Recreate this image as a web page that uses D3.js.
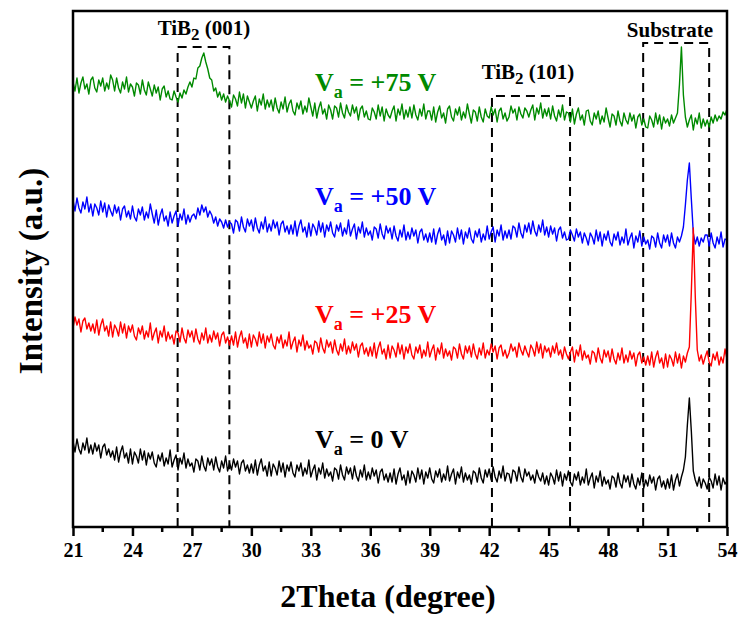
<!DOCTYPE html>
<html>
<head>
<meta charset="utf-8">
<script src="https://cdn.jsdelivr.net/npm/d3@7"></script>
<style>
  body { margin: 0; background: #fff; }
  text { font-family: "Liberation Serif", "Times New Roman", serif; font-weight: bold; }
</style>
</head>
<body>
<svg id="chart" width="743" height="617"></svg>
<script>
// scan settings: 2theta from 21 to 54 in steps of 0.1 degree
const thetaStart = 21;
const thetaStep = 0.1;
const xTicks = [21, 24, 27, 30, 33, 36, 39, 42, 45, 48, 51, 54];

const voltages = ["0", "+25", "+50", "+75"];
const colors = ["#000000", "#ff0000", "#0000ff", "#008a00"];
// vertical stacking offset of each pattern (a.u.)
const offsets = [0, 150, 250, 370];

// intensities (a.u.), one row per degree
const i0V = [
  86,75,88,78,73,84,77,89,74,82,
  73,84,76,82,69,80,83,72,78,70,
  76,67,80,65,75,81,69,74,64,78,
  63,75,71,64,78,67,76,62,74,68,
  75,64,60,72,66,74,61,69,63,77,
  60,67,72,57,69,63,74,59,68,61,
  64,55,68,66,57,71,61,56,69,62,
  68,57,70,60,55,66,59,71,56,64,
  57,68,60,66,53,64,67,56,62,54,
  63,54,67,52,62,68,56,61,51,65,
  51,63,59,52,66,55,64,50,62,56,
  65,54,50,62,56,64,51,59,53,67,
  50,57,62,47,59,53,64,49,58,51,
  55,46,59,57,48,62,52,47,60,53,
  59,48,61,51,46,57,50,62,47,55,
  48,59,51,57,44,55,58,47,53,45,
  54,45,58,43,53,59,47,52,42,56,
  44,56,52,45,59,48,57,43,55,49,
  59,48,44,56,50,58,45,53,47,61,
  46,53,58,43,55,49,60,45,54,47,
  52,43,56,54,45,59,49,44,57,50,
  58,47,60,50,45,56,49,61,46,54,
  53,44,57,55,46,60,50,45,58,51,
  55,47,52,44,57,50,46,54,43,51,
  42,54,50,43,57,46,55,41,53,47,
  56,45,41,53,47,55,42,50,44,58,
  42,49,54,39,51,45,56,41,50,43,
  47,38,51,49,40,54,44,39,52,45,
  51,40,53,43,38,49,42,54,39,47,
  41,52,44,50,37,48,51,40,46,38,
  48,39,52,37,47,53,41,50,57,70,
  102,129,96,56,47,41,50,39,48,44,
  38,50,46,39,53,42,51,37,49,43,
  46
];

const i25V = [
  49,60,52,58,45,56,59,48,54,46,
  53,44,57,42,52,58,46,51,41,55,
  40,52,48,41,55,44,53,39,51,45,
  52,41,37,49,43,51,38,46,40,54,
  37,44,49,34,46,40,51,36,45,38,
  42,33,46,44,35,49,39,34,47,40,
  46,35,48,38,33,44,37,49,34,42,
  35,46,38,44,31,42,45,34,40,32,
  41,32,45,30,40,46,34,39,29,43,
  30,42,38,31,45,34,43,29,41,35,
  43,32,28,40,34,42,29,37,31,45,
  28,35,40,25,37,31,42,27,36,29,
  32,23,36,34,25,39,29,24,37,30,
  35,24,37,27,22,33,26,38,23,31,
  24,35,27,33,20,31,34,23,29,21,
  30,21,34,19,29,35,23,28,18,32,
  19,31,27,20,34,23,32,18,30,24,
  33,22,18,30,24,32,19,27,21,35,
  20,27,32,17,29,23,34,19,28,21,
  26,17,30,28,19,33,23,18,31,24,
  31,20,33,23,18,29,22,34,19,27,
  22,33,25,31,18,29,32,21,27,19,
  24,33,26,30,20,34,27,22,31,25,
  20,32,28,21,35,24,33,19,31,25,
  29,20,31,24,34,22,27,18,30,23,
  18,25,30,15,27,21,32,17,26,19,
  22,13,26,24,15,29,19,14,27,20,
  26,15,28,18,13,24,17,29,14,22,
  15,26,18,24,11,22,25,14,20,12,
  21,12,25,10,20,26,14,19,9,23,
  10,22,18,11,25,14,23,9,21,15,
  24,30,85,149,80,27,16,22,13,20,
  26,15,11,23,17,25,12,20,14,28,
  18
];

const i50V = [
  77,66,79,69,64,75,68,80,65,73,
  61,73,69,62,76,65,74,60,72,66,
  61,72,64,70,57,68,71,60,66,58,
  71,60,56,68,62,70,57,65,59,73,
  63,54,67,52,62,68,56,61,51,65,
  54,61,66,51,63,57,68,53,62,55,
  61,63,58,69,62,72,65,70,60,66,
  62,54,60,51,58,55,49,57,50,55,
  53,44,57,55,46,60,50,45,58,51,
  57,46,59,49,44,55,48,60,45,53,
  46,57,49,55,42,53,56,45,51,43,
  52,43,56,41,51,57,45,50,40,54,
  41,53,49,42,56,45,54,40,52,46,
  55,44,40,52,46,54,41,49,43,57,
  41,48,53,38,50,44,55,40,49,42,
  46,37,50,48,39,53,43,38,51,44,
  49,38,51,41,36,47,40,52,37,45,
  38,49,41,47,34,45,48,37,43,35,
  44,35,48,33,43,49,37,42,32,46,
  34,46,42,35,49,38,47,33,45,39,
  49,38,34,46,40,48,35,43,37,51,
  38,45,50,35,47,41,52,37,46,39,
  47,38,51,49,40,54,44,39,52,45,
  54,43,56,46,41,52,45,57,42,50,
  40,51,43,49,36,47,50,39,45,37,
  38,47,42,36,48,40,45,34,44,39,
  32,44,40,33,47,36,45,31,43,37,
  46,35,31,43,37,45,32,40,34,48,
  32,39,44,29,41,35,46,31,40,33,
  37,28,41,39,30,44,34,29,42,35,
  42,31,44,34,29,40,35,41,50,72,
  97,114,78,44,33,40,31,39,35,42,
  42,31,44,34,29,40,33,45,30,38,
  37
];

const i75V = [
  75,66,79,64,74,80,68,73,63,77,
  80,69,65,77,71,79,66,74,68,82,
  77,66,79,69,64,75,68,80,65,73,
  70,61,74,72,63,77,67,62,75,68,
  61,72,64,70,57,68,71,60,66,58,
  57,66,60,55,64,59,67,63,70,75,
  70,79,78,89,91,99,104,95,88,79,
  77,66,69,60,65,57,63,55,61,56,
  50,62,58,51,65,54,63,49,61,55,
  49,56,61,46,58,52,63,48,57,50,
  57,46,59,49,44,55,48,60,45,53,
  57,46,42,54,48,56,43,51,45,59,
  50,41,54,39,49,55,43,48,38,52,
  47,38,51,49,40,54,44,39,52,45,
  41,52,44,50,37,48,51,40,46,38,
  37,49,45,38,52,41,50,36,48,42,
  39,46,51,36,48,42,53,38,47,40,
  50,39,52,42,37,48,41,53,38,46,
  46,37,50,35,45,51,39,44,34,48,
  51,40,36,48,42,50,37,45,39,53,
  43,34,47,45,36,50,40,35,48,41,
  39,50,42,48,35,46,49,38,44,36,
  40,51,44,48,37,50,43,39,49,46,
  40,47,52,37,49,43,54,39,48,41,
  49,38,51,41,36,47,40,52,37,45,
  44,35,48,33,43,49,37,42,32,46,
  47,36,32,44,38,46,33,41,35,49,
  39,30,43,41,32,46,36,31,44,37,
  33,44,36,42,29,40,43,32,38,30,
  29,41,37,30,44,33,42,28,40,34,
  38,31,42,34,39,44,72,110,62,40,
  30,37,42,27,39,33,44,29,38,31,
  37,30,40,34,42,36,41,38,45,42,
  48
];

const patterns = [i0V, i25V, i50V, i75V];

// reflections marked with dashed boxes: 2theta range and top (a.u.)
const peakNames = ["TiB", "TiB", "Substrate"];
const peakIndex = ["2", "2", ""];
const peakHkl = [" (001)", " (101)", ""];
const peakFrom = [26.28, 42.14, 49.77];
const peakTo = [28.89, 46.08, 53.10];
const peakTop = [480, 431, 484];

const svg = d3.select("#chart");
const margin = { left: 73, right: 16, top: 11, bottom: 90 };
const width = 743 - margin.left - margin.right;
const height = 617 - margin.top - margin.bottom;

const x = d3.scaleLinear().domain([21, 54]).range([margin.left, margin.left + width]);
const y = d3.scaleLinear().domain([0, 516]).range([margin.top + height, margin.top]);

svg.append("rect").attr("width", 743).attr("height", 617).attr("fill", "#fff");

// dashed boxes
peakFrom.forEach(function(f, i) {
  const x0 = x(f), x1 = x(peakTo[i]), yt = y(peakTop[i]), yb = y(0);
  svg.append("path")
    .attr("d", `M${x0},${yb}V${yt}H${x1}V${yb}`)
    .attr("fill", "none")
    .attr("stroke", "#000")
    .attr("stroke-width", 2)
    .attr("stroke-dasharray", "9,6");
});

const line = d3.line()
  .x(function(d) { return x(d[0]); })
  .y(function(d) { return y(d[1]); });

for (let k = patterns.length - 1; k >= 0; k--) {
  const pts = patterns[k].map(function(v, i) {
    return [thetaStart + i * thetaStep, v + offsets[k]];
  });
  svg.append("path")
    .datum(pts)
    .attr("d", line)
    .attr("fill", "none")
    .attr("stroke", colors[k])
    .attr("stroke-width", 1.4)
    .attr("stroke-linejoin", "round");
}

// frame
svg.append("rect")
  .attr("x", margin.left).attr("y", margin.top)
  .attr("width", width).attr("height", height)
  .attr("fill", "none").attr("stroke", "#000").attr("stroke-width", 2.5);

// bottom axis with minor ticks
const minor = d3.range(22.5, 54, 3);
svg.append("g").selectAll("line").data(minor).enter().append("line")
  .attr("x1", function(d) { return x(d); }).attr("x2", function(d) { return x(d); })
  .attr("y1", y(0)).attr("y2", y(0) + 5)
  .attr("stroke", "#000").attr("stroke-width", 2.5);

const axis = svg.append("g")
  .attr("transform", `translate(0,${y(0)})`)
  .call(d3.axisBottom(x).tickValues(xTicks).tickSize(9).tickFormat(d3.format("d")));
axis.select(".domain").remove();
axis.selectAll(".tick line").attr("stroke-width", 2.5);
axis.selectAll(".tick text")
  .attr("y", 30).attr("dy", 0)
  .attr("font-size", 20)
  .attr("font-family", "Liberation Serif, Times New Roman, serif")
  .attr("font-weight", "bold")
  .attr("fill", "#000");

// axis titles
svg.append("text")
  .attr("x", 388).attr("y", 607)
  .attr("text-anchor", "middle")
  .attr("font-size", 32)
  .text("2Theta (degree)");

svg.append("text")
  .attr("transform", "translate(42,271) rotate(-90)")
  .attr("text-anchor", "middle")
  .attr("font-size", 33)
  .text("Intensity (a.u.)");

// sample labels
const labelY = [448, 323, 205, 91];
voltages.forEach(function(v, k) {
  const t = svg.append("text")
    .attr("x", 315).attr("y", labelY[k])
    .attr("font-size", 26)
    .attr("fill", colors[k]);
  t.append("tspan").text("V");
  t.append("tspan").attr("font-size", 18).attr("dy", 7).text("a");
  t.append("tspan").attr("dy", -7).text(" = " + v + " V");
});

// peak labels
const peakLabelX = [204, 528, 670];
const peakLabelY = [35, 79, 37];
peakNames.forEach(function(n, i) {
  const t = svg.append("text")
    .attr("x", peakLabelX[i]).attr("y", peakLabelY[i])
    .attr("text-anchor", "middle")
    .attr("font-size", 21);
  t.append("tspan").text(n);
  if (peakIndex[i]) {
    t.append("tspan").attr("font-size", 17).attr("dy", 5).text(peakIndex[i]);
    t.append("tspan").attr("dy", -5).text(peakHkl[i]);
  }
});
</script>
</body>
</html>
